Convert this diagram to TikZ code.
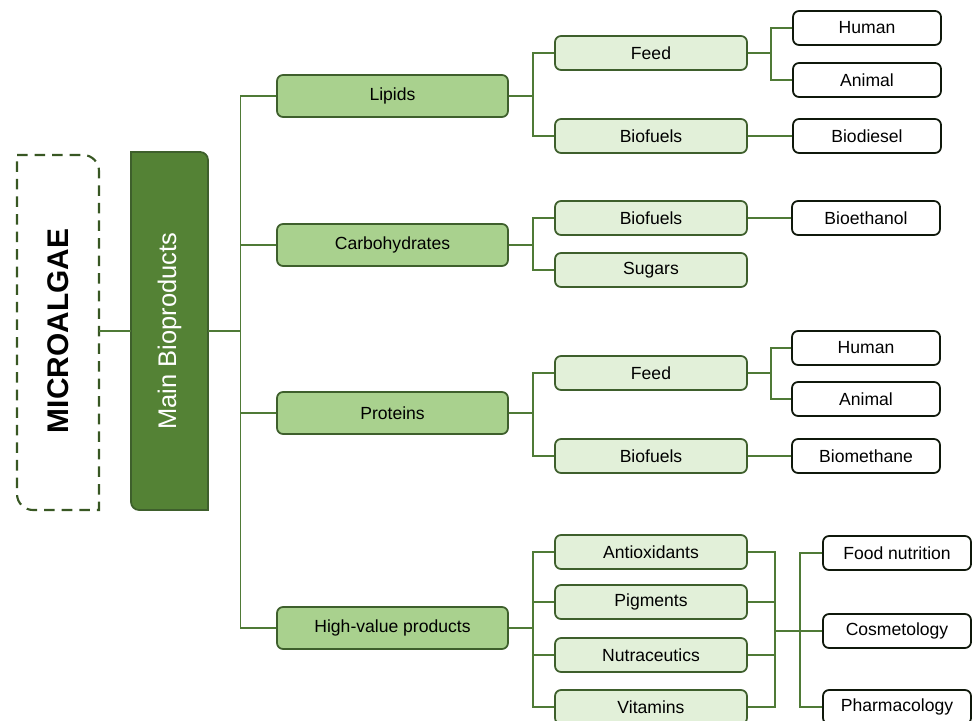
\documentclass[tikz,border=0pt]{standalone}
\usepackage{fontspec}
\setmainfont{Liberation Sans}
\usepackage{graphicx}
\definecolor{darkgreen}{HTML}{548235}
\definecolor{midgreen}{HTML}{A9D18E}
\definecolor{palegreen}{HTML}{E2F0D9}
\definecolor{edgegreen}{HTML}{3E5F2C}
\definecolor{linegreen}{HTML}{4F7A36}
\definecolor{dashgreen}{HTML}{385723}
\begin{document}
\begin{tikzpicture}[x=0.02cm, y=0.02cm, font=\fontsize{10}{12}\selectfont,
    catbox/.style={draw=edgegreen, fill=midgreen, line width=1pt, rounded corners=0.12cm, minimum width=4.62cm, minimum height=0.84cm},
    subbox/.style={draw=edgegreen, fill=palegreen, line width=1pt, rounded corners=0.12cm, minimum width=3.84cm, minimum height=0.68cm},
    usebox/.style={draw=black!75!edgegreen, fill=white, line width=1pt, rounded corners=0.12cm, minimum width=2.96cm, minimum height=0.68cm},
    link/.style={draw=linegreen, line width=0.85pt}]
    \clip (0,0) rectangle (972,720);
    % Microalgae (dashed frame)
    \draw[dashgreen, line width=1.2pt, dash pattern=on 6pt off 4pt] (17,565) -- (83,565) arc[start angle=90, end angle=0, radius=0.32cm] -- (99,210) -- (33,210) arc[start angle=270, end angle=180, radius=0.32cm] -- cycle;
    \node[minimum width=1.64cm, minimum height=7.1cm] (alg) at (58,389) {\rotatebox{90}{\bfseries\fontsize{17}{20}\selectfont MICROALGAE}};
    % Main bioproducts
    \filldraw[fill=darkgreen, draw=edgegreen, line width=1pt] (131,568) -- (200,568) arc[start angle=90, end angle=0, radius=0.16cm] -- (208,210) -- (139,210) arc[start angle=270, end angle=180, radius=0.16cm] -- cycle;
    \node[minimum width=1.54cm, minimum height=7.16cm, text=white] (main) at (169.5,389) {\rotatebox{90}{\fontsize{14.5}{17}\selectfont Main Bioproducts}};
    % Categories
    \node[catbox] (lip) at (392.5,624) {Lipids};
    \node[catbox] (carb) at (392.5,475) {Carbohydrates};
    \node[catbox] (prot) at (392.5,307) {Proteins};
    \node[catbox] (hv) at (392.5,92) {High-value products};
    % Lipids branch
    \node[subbox] (feedL) at (651,667) {Feed};
    \node[subbox] (fuelL) at (651,584) {Biofuels};
    \node[usebox] (humL) at (867,692) {Human};
    \node[usebox] (aniL) at (867,640) {Animal};
    \node[usebox] (diesel) at (867,584) {Biodiesel};
    % Carbohydrates branch
    \node[subbox] (fuelC) at (651,502) {Biofuels};
    \node[subbox] (sugar) at (651,450) {Sugars};
    \node[usebox] (ethanol) at (866,502) {Bioethanol};
    % Proteins branch
    \node[subbox] (feedP) at (651,347) {Feed};
    \node[subbox] (fuelP) at (651,264) {Biofuels};
    \node[usebox] (humP) at (866,372) {Human};
    \node[usebox] (aniP) at (866,321) {Animal};
    \node[usebox] (methane) at (866,264) {Biomethane};
    % High-value branch
    \node[subbox] (anti) at (651,168) {Antioxidants};
    \node[subbox] (pig) at (651,118) {Pigments};
    \node[subbox] (nutra) at (651,65) {Nutraceutics};
    \node[subbox] (vit) at (651,13) {Vitamins};
    \node[usebox] (food) at (897,167) {Food nutrition};
    \node[usebox] (cosm) at (897,89) {Cosmetology};
    \node[usebox] (pharm) at (897,13) {Pharmacology};
    % Trunk
    \draw[link] (alg.east) -- (main.west);
    \draw[link] (main.east) -- ++(32,0) coordinate (trunk);
    \draw[link] (trunk) |- (lip.west) (trunk) |- (carb.west) (trunk) |- (prot.west) (trunk) |- (hv.west);
    % Second level
    \draw[link] (lip.east) -- ++(24,0) coordinate (jlip) |- (feedL.west) (jlip) |- (fuelL.west);
    \draw[link] (carb.east) -- ++(24,0) coordinate (jcarb) |- (fuelC.west) (jcarb) |- (sugar.west);
    \draw[link] (prot.east) -- ++(24,0) coordinate (jprot) |- (feedP.west) (jprot) |- (fuelP.west);
    \draw[link] (hv.east) -- ++(24,0) coordinate (jhv) |- (anti.west) (jhv) |- (pig.west) (jhv) |- (nutra.west) (jhv) |- (vit.west);
    % Third level
    \draw[link] (feedL.east) -- ++(23,0) coordinate (jfl) |- (humL.west) (jfl) |- (aniL.west);
    \draw[link] (fuelL.east) -- (diesel.west);
    \draw[link] (fuelC.east) -- (ethanol.west);
    \draw[link] (feedP.east) -- ++(23,0) coordinate (jfp) |- (humP.west) (jfp) |- (aniP.west);
    \draw[link] (fuelP.east) -- (methane.west);
    \coordinate (jout) at (775,89);
    \draw[link] (anti.east) -| (jout) (pig.east) -| (jout) (nutra.east) -| (jout) (vit.east) -| (jout);
    \draw[link] (jout) -- ++(25,0) coordinate (jin) |- (food.west) (jin) |- (cosm.west) (jin) |- (pharm.west);
\end{tikzpicture}
\end{document}
